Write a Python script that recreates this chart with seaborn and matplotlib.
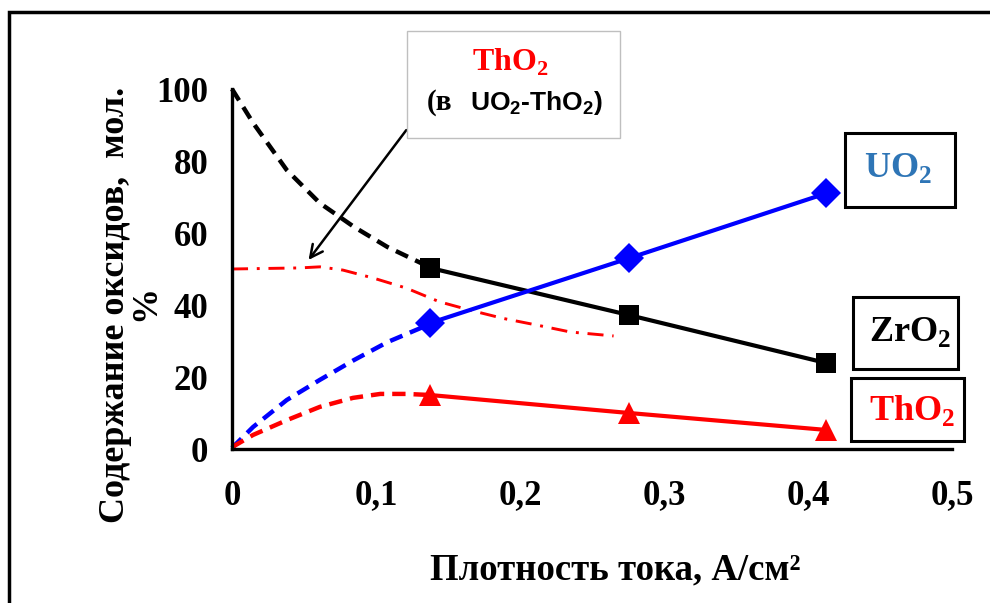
import matplotlib
matplotlib.use("Agg")
import matplotlib.pyplot as plt
import matplotlib.patches as mpatches
import seaborn as sns

# ---- data ----
x_meas = [0.1375, 0.2757, 0.4125]
uo2_meas = [35.0, 53.0, 71.0]
zro2_meas = [50.3, 37.2, 23.9]
tho2_meas = [15.0, 10.0, 5.3]

# dashed extrapolations toward zero current
x_ext = [0.0, 0.0146, 0.038, 0.061, 0.0847, 0.108, 0.131, 0.1375]
zro2_ext = [100.0, 90.6, 77.5, 68.3, 61.7, 56.1, 51.7, 50.3]
uo2_ext = [0.3, 6.1, 13.6, 19.2, 24.7, 29.7, 33.6, 35.0]
x_ext_th = [0.0, 0.0146, 0.038, 0.061, 0.084, 0.103, 0.121, 0.1375]
tho2_ext = [0.5, 3.9, 8.0, 11.7, 14.2, 15.3, 15.3, 15.0]

# ThO2 in UO2-ThO2 (dash-dot)
x_tho2_b = [0.0, 0.047, 0.061, 0.077, 0.098, 0.121, 0.144, 0.165, 0.188, 0.212, 0.235, 0.265]
tho2_b = [50.0, 50.3, 50.6, 49.7, 47.5, 44.7, 40.9, 38.6, 36.3, 34.4, 32.5, 31.4]

x_ticks = [0.0, 0.1, 0.2, 0.3, 0.4, 0.5]
x_tick_labels = ["0", "0,1", "0,2", "0,3", "0,4", "0,5"]
y_ticks = [0, 20, 40, 60, 80, 100]
y_tick_labels = ["0", "20", "40", "60", "80", "100"]

sns.set_style("white")
plt.rcParams["font.family"] = ["Liberation Serif", "DejaVu Serif"]
plt.rcParams["font.weight"] = "bold"
plt.rcParams["text.color"] = "black"
plt.rcParams["axes.labelcolor"] = "black"
plt.rcParams["xtick.color"] = "black"
plt.rcParams["ytick.color"] = "black"
plt.rcParams["mathtext.fontset"] = "custom"
plt.rcParams["mathtext.rm"] = "Liberation Serif:bold"
plt.rcParams["mathtext.sf"] = "Liberation Sans:bold"

W, H = 990, 603
fig = plt.figure(figsize=(9.9, 6.03), dpi=100)

def fx(px):
    return px / W

def fy(py):
    return 1 - py / H

ax = fig.add_axes([fx(232), fy(449), fx(952) - fx(232), fy(89) - fy(449)])

BLUE = "#0000FF"
RED = "#FF0000"

def line(x, y, color, lw, ls, marker=None, ms=0):
    sns.lineplot(x=x, y=y, ax=ax, color=color, lw=lw, marker=marker,
                 markersize=ms, markeredgewidth=0, errorbar=None, sort=False)
    l = ax.lines[-1]
    l.set_linestyle(ls)
    l.set_clip_on(False)
    l.set_dash_capstyle("butt")

line(x_ext, zro2_ext, "black", 3.2, (0, (3.0, 1.8)))
line(x_ext, uo2_ext, BLUE, 3.2, (0, (3.0, 1.8)))
line(x_ext_th, tho2_ext, RED, 3.2, (0, (3.0, 1.8)))
line(x_tho2_b, tho2_b, RED, 2.1, (0, (5.5, 3.0, 1.0, 3.0)))

line(x_meas, zro2_meas, "black", 3.0, "-", "s", 15)
line(x_meas, uo2_meas, BLUE, 3.0, "-", "D", 15)
line(x_meas, tho2_meas, RED, 3.0, "-", "^", 16)

ax.set_xlim(0, 0.5)
ax.set_ylim(0, 100)
ax.set_xticks(x_ticks)
ax.set_xticklabels(x_tick_labels)
ax.set_yticks(y_ticks)
ax.set_yticklabels(y_tick_labels)
for s in ["top", "right"]:
    ax.spines[s].set_visible(False)
for s in ["left", "bottom"]:
    ax.spines[s].set_linewidth(2.4)
    ax.spines[s].set_color("black")
ax.tick_params(axis="both", direction="out", length=7, width=2, color="black",
               labelsize=25, labelcolor="black")
ax.tick_params(axis="x", pad=15)
ax.tick_params(axis="y", pad=10)
for t in ax.get_xticklabels() + ax.get_yticklabels():
    t.set_fontweight("bold")
ax.set_xlabel("")
ax.set_ylabel("")

# axis titles
fig.text(fx(615), fy(570), "Плотность тока, А/см²", ha="center", va="center",
         fontsize=26.5, fontweight="bold")
fig.text(fx(116), fy(305), "Содержание оксидов,  мол.", ha="center", va="center",
         rotation=90, fontsize=26, fontweight="bold")
fig.text(fx(146), fy(303), "%", ha="center", va="center",
         rotation=90, fontsize=26, fontweight="bold")

# legend-like boxes
def box(x0, y0, x1, y1, ec="black", lw=2.2):
    r = mpatches.Rectangle((fx(x0), fy(y1)), fx(x1) - fx(x0), fy(y0) - fy(y1),
                           transform=fig.transFigure, fill=False, ec=ec, lw=lw,
                           facecolor="none")
    fig.add_artist(r)

box(845, 133, 955, 207)
fig.text(fx(898), fy(168), r"UO$_\mathrm{2}$", ha="center", va="center",
         fontsize=26, fontweight="bold", color="#2E75B6")
box(853, 297, 958, 369)
fig.text(fx(910), fy(332), r"ZrO$_\mathrm{2}$", ha="center", va="center",
         fontsize=26, fontweight="bold", color="black")
box(851, 378, 964, 441)
fig.text(fx(912), fy(410), r"ThO$_\mathrm{2}$", ha="center", va="center",
         fontsize=26, fontweight="bold", color=RED)

# annotation box
box(407, 31, 620, 138, ec="#BFBFBF", lw=1.0)
fig.text(fx(510), fy(62), r"ThO$_\mathrm{2}$", ha="center", va="center",
         fontsize=23, fontweight="bold", color=RED)
fig.text(fx(440), fy(103), "(в", ha="center", va="center",
         fontsize=21, fontweight="bold", color="black")
fig.text(fx(537), fy(103), r"UO$_\mathsf{2}$-ThO$_\mathsf{2}$)", ha="center", va="center",
         fontsize=19, fontweight="bold", color="black", family="Liberation Sans")

ax.annotate("", xy=(0.052, 51.9), xytext=(0.1222, 89.2),
            arrowprops=dict(arrowstyle="->,head_length=0.9,head_width=0.45",
                            color="black", lw=1.8),
            annotation_clip=False)

# outer frame
frame = mpatches.Rectangle((fx(9), -0.2), 1.5, fy(12) + 0.2, transform=fig.transFigure,
                           fill=False, ec="black", lw=2.5)
fig.add_artist(frame)

fig.savefig("out.png", dpi=100)
